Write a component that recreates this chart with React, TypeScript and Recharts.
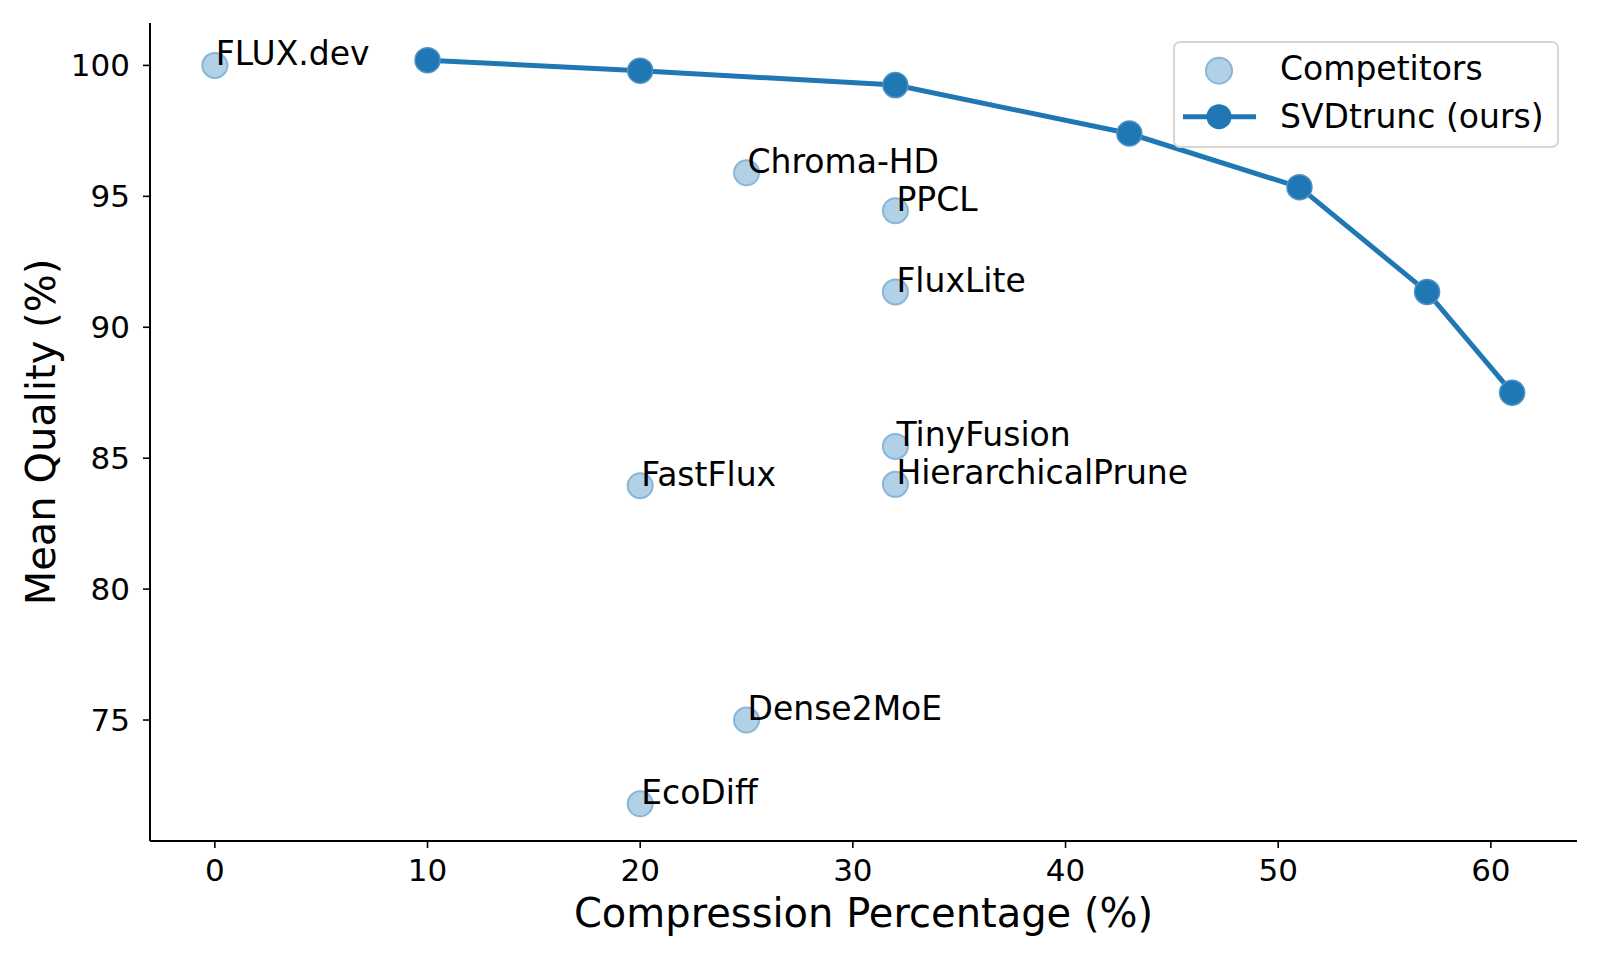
import React from 'react';
import { ScatterChart, Scatter, XAxis, YAxis, Legend, Label } from 'recharts';

// competitor methods (single points, annotated)
const competitorNames = [
  'FLUX.dev',
  'Chroma-HD',
  'PPCL',
  'FluxLite',
  'TinyFusion',
  'HierarchicalPrune',
  'FastFlux',
  'Dense2MoE',
  'EcoDiff',
];
const competitorCompression = [0, 25, 32, 32, 32, 32, 20, 25, 20];
const competitorQuality = [100, 95.9, 94.45, 91.35, 85.45, 84.0, 83.95, 75.0, 71.8];

// our method, connected line
const svdCompression = [10, 20, 32, 43, 51, 57, 61];
const svdQuality = [100.2, 99.8, 99.25, 97.4, 95.35, 91.35, 87.5];

const xTicks = [0, 10, 20, 30, 40, 50, 60];
const yTicks = [75, 80, 85, 90, 95, 100];

const BLUE = '#1f77b4';
const LIGHT_FILL = '#b2d0e6';
const LIGHT_EDGE = '#86b6da';
const FONT = '"DejaVu Sans", sans-serif';

const competitors = competitorNames.map((name, i) => ({
  name,
  x: competitorCompression[i],
  y: competitorQuality[i],
}));
const svd = svdCompression.map((x, i) => ({ x, y: svdQuality[i] }));

// eslint-disable-next-line @typescript-eslint/no-explicit-any
const CompetitorDot = (props: any) => {
  const { cx, cy, payload } = props;
  return (
    <g>
      <circle cx={cx} cy={cy} r={12.5} fill={LIGHT_FILL} stroke={LIGHT_EDGE} strokeWidth={2} />
      <text x={cx + 1} y={cy} fontSize={33} fontFamily={FONT} fill="#000">
        {payload.name}
      </text>
    </g>
  );
};

// eslint-disable-next-line @typescript-eslint/no-explicit-any
const SvdDot = (props: any) => (
  <circle cx={props.cx} cy={props.cy} r={12.5} fill={BLUE} stroke="#4f93c6" strokeWidth={1.5} />
);

const renderLegend = () => (
  <svg width={386} height={107} style={{ display: 'block' }}>
    <rect x={1} y={1} width={384} height={105} rx={6} fill="#fff" fillOpacity={0.8} stroke="#d6d6d6" strokeWidth={2} />
    <circle cx={46} cy={29.7} r={13} fill={LIGHT_FILL} stroke={LIGHT_EDGE} strokeWidth={2} />
    <text x={107} y={38.5} fontSize={33} fontFamily={FONT} fill="#000">
      Competitors
    </text>
    <line x1={10} x2={83} y1={75.7} y2={75.7} stroke={BLUE} strokeWidth={5} />
    <circle cx={46} cy={75.7} r={12.5} fill={BLUE} />
    <text x={107} y={86.5} fontSize={33} fontFamily={FONT} fill="#000">
      SVDtrunc (ours)
    </text>
  </svg>
);

export default function App() {
  return (
    <div style={{ position: 'absolute', left: 0, top: 0, width: 1600, height: 960, background: '#fff' }}>
      <ScatterChart width={1600} height={960} margin={{ top: 23, right: 23, bottom: 0, left: 0 }}>
        <XAxis
          type="number"
          dataKey="x"
          domain={[-3.05, 64.05]}
          ticks={xTicks}
          allowDataOverflow
          height={119}
          tickSize={7}
          tickMargin={11}
          tick={{ fontSize: 31, fill: '#000', fontFamily: FONT }}
          axisLine={{ stroke: '#000', strokeWidth: 2 }}
          tickLine={{ stroke: '#000', strokeWidth: 1.6 }}
        >
          <Label
            // eslint-disable-next-line @typescript-eslint/no-explicit-any
            content={(p: any) => (
              <text
                x={p.viewBox.x + p.viewBox.width / 2}
                y={p.viewBox.y + 86}
                textAnchor="middle"
                fontSize={40}
                fontFamily={FONT}
                fill="#000"
              >
                Compression Percentage (%)
              </text>
            )}
          />
        </XAxis>
        <YAxis
          type="number"
          dataKey="y"
          domain={[70.38, 101.62]}
          ticks={yTicks}
          allowDataOverflow
          width={150}
          tickSize={7}
          tickMargin={13}
          tick={{ fontSize: 31, fill: '#000', fontFamily: FONT }}
          axisLine={{ stroke: '#000', strokeWidth: 2 }}
          tickLine={{ stroke: '#000', strokeWidth: 1.6 }}
        >
          <Label
            // eslint-disable-next-line @typescript-eslint/no-explicit-any
            content={(p: any) => {
              const cx = p.viewBox.x + 55;
              const cy = p.viewBox.y + p.viewBox.height / 2;
              return (
                <text
                  x={cx}
                  y={cy}
                  transform={`rotate(-90 ${cx} ${cy})`}
                  textAnchor="middle"
                  fontSize={40}
                  fontFamily={FONT}
                  fill="#000"
                >
                  Mean Quality (%)
                </text>
              );
            }}
          />
        </YAxis>
        <Legend
          layout="horizontal"
          verticalAlign="middle"
          align="center"
          content={renderLegend}
          wrapperStyle={{ top: 41, left: 1173, width: 386, height: 107 }}
        />
        <Scatter
          name="Competitors"
          data={competitors}
          shape={<CompetitorDot />}
          isAnimationActive={false}
        />
        <Scatter
          name="SVDtrunc (ours)"
          data={svd}
          line={{ stroke: BLUE, strokeWidth: 5 }}
          lineType="joint"
          shape={<SvdDot />}
          isAnimationActive={false}
        />
      </ScatterChart>
    </div>
  );
}
